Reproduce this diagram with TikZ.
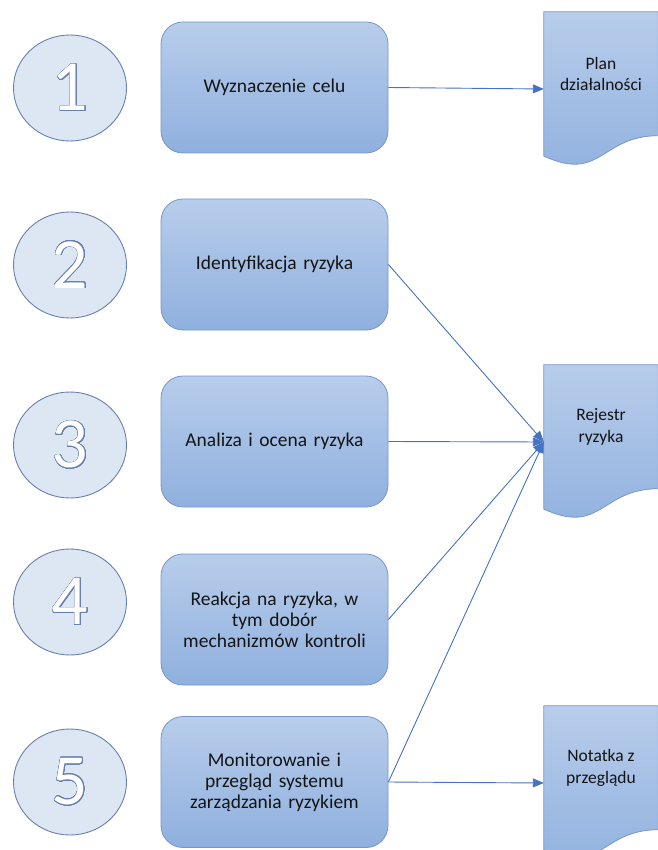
\documentclass[tikz,border=0pt]{standalone}
\usepackage{fontspec}
\setmainfont{Carlito}
\usepackage[copies]{contour}
\usetikzlibrary{arrows.meta, shapes.geometric, positioning, calc}

\definecolor{circfill}{RGB}{221,230,243}
\definecolor{circline}{RGB}{104,128,172}
\definecolor{boxtop}{RGB}{184,205,235}
\definecolor{boxbot}{RGB}{143,176,222}
\definecolor{boxline}{RGB}{118,150,202}
\definecolor{linkblue}{RGB}{68,114,196}
\definecolor{txt}{RGB}{20,20,20}

\contourlength{0.7pt}
\contournumber{32}

\newcommand{\docpath}[1]{%
  \path[docline] (#1.north west) -- (#1.north east) -- ([yshift=30.5pt]#1.south east)
    .. controls ([yshift=30.5pt]#1.south) and ([yshift=-16.5pt]#1.south) .. ([yshift=10.2pt]#1.south west) -- cycle;}

\begin{document}
\begin{tikzpicture}[x=1pt, y=-1pt,
  numcirc/.style={ellipse, draw=circline, line width=0.9pt, fill=circfill, minimum width=113pt, minimum height=106pt, inner sep=0pt, text=white, font=\fontsize{72}{72}\selectfont},
  stepbox/.style={rectangle, rounded corners=22pt, draw=boxline, line width=0.8pt, top color=boxtop, bottom color=boxbot, minimum width=227pt, minimum height=131pt, text width=215pt, align=center, text=txt, font=\fontsize{19.5}{21}\selectfont},
  docbox/.style={rectangle, minimum width=114pt, minimum height=154pt, inner sep=0pt},
  docline/.style={draw=boxline, line width=0.8pt, top color=boxtop, bottom color=boxbot},
  doctext/.style={align=center, text=txt, font=\fontsize{17.5}{21.5}\selectfont},
  link/.style={draw=linkblue, line width=0.9pt, -{Triangle[length=11pt, width=9pt]}}]

  \useasboundingbox (0,0) rectangle (657,850);

  \foreach \k/\yy in {1/88,2/265,3/445,4/602,5/782}
    \node[numcirc] (n\k) at (70,\yy) {\contour{circline}{\k}};

  \node[stepbox] (b1) at (274.5,87.5) {Wyznaczenie celu};
  \node[stepbox] (b2) at (274.5,264.5) {Identyfikacja ryzyka};
  \node[stepbox] (b3) at (274.5,441.5) {Analiza i ocena ryzyka};
  \node[stepbox] (b4) at (274.5,619.5) {Reakcja na ryzyka, w\\tym dobór\\mechanizmów kontroli};
  \node[stepbox] (b5) at (274.5,782) {Monitorowanie i\\przegląd systemu\\zarządzania ryzykiem};

  \node[docbox] (plan) at (601,89) {};
  \node[docbox] (rej) at (601,442) {};
  \node[docbox] (note) at (601,783) {};
  \docpath{plan}
  \docpath{rej}
  \docpath{note}
  \node[doctext] (plan-t) at ([yshift=15pt]plan.center) {Plan\\działalności};
  \node[doctext] (rej-t) at ([yshift=15pt]rej.center) {Rejestr\\ryzyka};
  \node[doctext] (note-t) at ([yshift=15pt]note.center) {Notatka z\\przeglądu};

  \draw[link] (b1.east) -- (plan.west);
  \draw[link] (b2.east) -- (rej.west);
  \draw[link] (b3.east) -- (rej.west);
  \draw[link] (b4.east) -- (rej.west);
  \draw[link] (b5.east) -- (rej.west);
  \draw[link] (b5.east) -- (note.west);

\end{tikzpicture}
\end{document}
